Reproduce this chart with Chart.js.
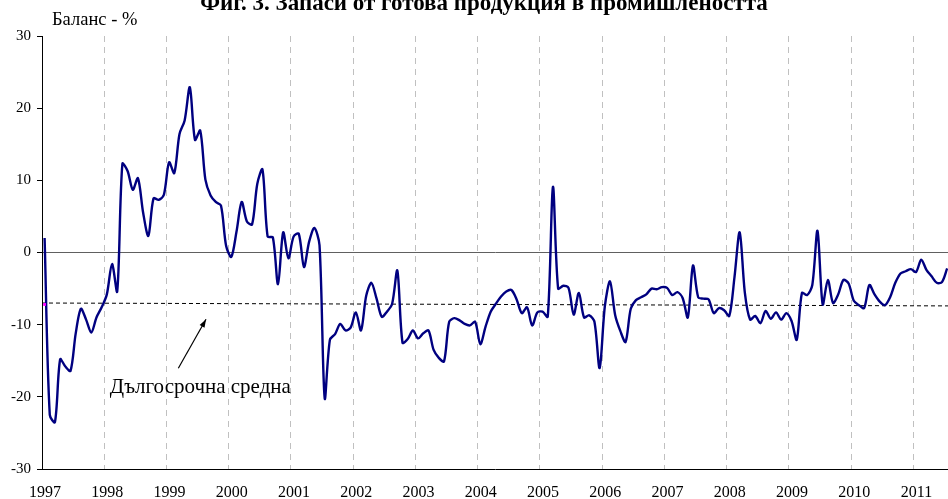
<!DOCTYPE html>
<html>
<head>
<meta charset="utf-8">
<script src="https://cdn.jsdelivr.net/npm/chart.js@4.4.0/dist/chart.umd.min.js"></script>
<style>
  html, body { margin: 0; padding: 0; background: #fff; overflow: hidden; }
  #wrap { position: relative; width: 948px; height: 499px; }
</style>
</head>
<body>
<div id="wrap"><canvas id="myChart"></canvas></div>
<script>
// месечни стойности (баланс, %) по години
const v1997 = [2.0, -22.5, -23.5, -14.8, -15.8, -16.4, -11.2, -7.8, -9.3, -11.1, -9.0, -7.6];
const v1998 = [-5.8, -1.6, -5.4, 12.3, 11.3, 8.7, 10.3, 5.5, 2.3, 7.5, 7.3, 8.0];
const v1999 = [12.5, 11.0, 16.4, 18.3, 22.9, 15.6, 16.9, 10.1, 7.9, 7.0, 6.5, 0.9];
const v2000 = [-0.6, 2.9, 7.0, 4.3, 3.9, 9.5, 11.5, 2.2, 2.1, -4.4, 2.8, -0.8];
const v2001 = [2.2, 2.6, -2.0, 1.5, 3.4, 1.0, -20.2, -12.1, -11.3, -9.9, -10.8, -10.4];
const v2002 = [-8.3, -10.8, -6.0, -4.2, -6.4, -8.9, -8.2, -7.1, -2.5, -12.5, -12.0, -10.8];
const v2003 = [-11.9, -11.2, -10.8, -13.5, -14.6, -15.1, -9.6, -9.1, -9.4, -9.9, -10.1, -9.6];
const v2004 = [-12.7, -10.3, -8.2, -7.1, -6.1, -5.4, -5.2, -6.5, -8.4, -7.6, -10.1, -8.3];
const v2005 = [-8.2, -8.9, 9.1, -5.0, -4.6, -4.9, -8.6, -5.6, -9.0, -8.7, -9.6, -16.0];
const v2006 = [-7.5, -4.0, -8.7, -10.9, -12.4, -7.8, -6.6, -6.2, -5.8, -5.0, -5.1, -4.8];
const v2007 = [-4.9, -5.9, -5.5, -6.3, -9.0, -1.8, -6.2, -6.4, -6.5, -8.4, -7.7, -8.0];
const v2008 = [-8.8, -3.4, 2.8, -5.6, -9.3, -8.8, -9.8, -8.1, -9.2, -8.3, -9.3, -8.4];
const v2009 = [-9.5, -12.1, -5.6, -5.9, -4.5, 3.0, -7.2, -3.8, -7.0, -5.8, -3.8, -4.3];
const v2010 = [-6.7, -7.3, -7.7, -4.5, -5.8, -6.8, -7.3, -6.2, -4.2, -2.9, -2.6, -2.3];
const v2011 = [-2.7, -1.0, -2.4, -3.3, -4.2, -4.1, -2.2];

const years = [1997, 1998, 1999, 2000, 2001, 2002, 2003, 2004, 2005, 2006, 2007, 2008, 2009, 2010, 2011];
const yearValues = [v1997, v1998, v1999, v2000, v2001, v2002, v2003, v2004, v2005, v2006, v2007, v2008, v2009, v2010, v2011];

// дългосрочна средна - начало и край
const meanStart = -7.0;
const meanEnd = -7.4;

const yTicks = [-30, -20, -10, 0, 10, 20, 30];
const xMin = 1997;
const xMax = 2011.555;

const titleText = 'Фиг. 3. Запаси от готова продукция в промишлеността';
const yLabel = 'Баланс - %';
const noteText = 'Дългосрочна средна';

// точките са в средата на всеки месец
const series = [];
years.forEach((yr, k) => {
    yearValues[k].forEach((v, m) => {
        series.push({ x: yr + (m + 0.5) / 12, y: v });
    });
});

const serif = '"Liberation Serif", "Times New Roman", serif';
Chart.defaults.font.family = serif;
Chart.defaults.color = '#000';

// заглавие, надпис на оста и стрелката за средната
const extraText = {
    id: 'extraText',
    afterDraw(chart) {
        const ctx = chart.ctx;
        const xs = chart.scales.x;
        const ys = chart.scales.y;
        ctx.save();
        ctx.fillStyle = '#000';
        ctx.textBaseline = 'alphabetic';

        ctx.font = 'bold 23px ' + serif;
        ctx.textAlign = 'center';
        ctx.fillText(titleText, 484, 10);

        ctx.font = '18.5px ' + serif;
        ctx.textAlign = 'left';
        ctx.fillText(yLabel, 52, 25);

        ctx.font = '21px ' + serif;
        ctx.fillText(noteText, xs.getPixelForValue(1998.09), ys.getPixelForValue(-19.5));

        const x1 = xs.getPixelForValue(1999.19), y1 = ys.getPixelForValue(-16.05);
        const x2 = xs.getPixelForValue(1999.635), y2 = ys.getPixelForValue(-9.26);
        ctx.strokeStyle = '#000';
        ctx.lineWidth = 1.2;
        ctx.beginPath();
        ctx.moveTo(x1, y1);
        ctx.lineTo(x2, y2);
        ctx.stroke();
        const a = Math.atan2(y2 - y1, x2 - x1);
        ctx.beginPath();
        ctx.moveTo(x2, y2);
        ctx.lineTo(x2 - 8 * Math.cos(a) + 2.8 * Math.sin(a), y2 - 8 * Math.sin(a) - 2.8 * Math.cos(a));
        ctx.lineTo(x2 - 8 * Math.cos(a) - 2.8 * Math.sin(a), y2 - 8 * Math.sin(a) + 2.8 * Math.cos(a));
        ctx.closePath();
        ctx.fill();
        ctx.restore();
    }
};

const ctx = document.getElementById('myChart').getContext('2d');
const chart = new Chart(ctx, {
    type: 'line',
    data: {
        datasets: [
            {
                data: [{ x: xMin + 0.5 / 12, y: -7.2 }],
                showLine: false,
                pointStyle: 'rect',
                pointRadius: 2,
                backgroundColor: '#ff00ff',
                borderWidth: 0,
                order: 0
            },
            {
                data: series,
                borderColor: '#000080',
                borderWidth: 2.4,
                pointRadius: 0,
                tension: 0.3,
                fill: false,
                order: 1
            },
            {
                data: [{ x: xMin, y: meanStart }, { x: xMax, y: meanEnd }],
                borderColor: '#000',
                borderWidth: 1,
                borderDash: [4, 3],
                pointRadius: 0,
                fill: false,
                order: 2
            }
        ]
    },
    options: {
        responsive: true,
        maintainAspectRatio: false,
        devicePixelRatio: 1,
        animation: false,
        layout: { autoPadding: false, padding: { top: 36, right: 0, left: 0, bottom: 0 } },
        plugins: {
            legend: { display: false },
            tooltip: { enabled: false },
            title: { display: false }
        },
        scales: {
            x: {
                type: 'linear',
                min: xMin,
                max: xMax,
                ticks: {
                    stepSize: 1,
                    includeBounds: false,
                    autoSkip: false,
                    maxRotation: 0,
                    padding: 14,
                    labelOffset: 3,
                    font: { size: 16 },
                    callback: v => String(v)
                },
                grid: { color: '#c0c0c0', drawTicks: false, lineWidth: 1 },
                border: { display: true, color: '#000', dash: [6, 5] },
                afterFit: s => { s.height = 30; s.paddingLeft = 0; s.paddingRight = 0; }
            },
            y: {
                min: -30,
                max: 30,
                afterBuildTicks: s => { s.ticks = yTicks.map(v => ({ value: v })); },
                ticks: { padding: 6, font: { size: 15 } },
                grid: {
                    color: c => (c.tick && c.tick.value === 0 ? '#606060' : 'rgba(0,0,0,0)'),
                    tickColor: '#000',
                    tickLength: 5,
                    lineWidth: 1
                },
                border: { display: true, color: '#000' },
                afterFit: s => { s.width = 42; s.paddingTop = 0; s.paddingBottom = 0; }
            }
        }
    },
    plugins: [extraText]
});
</script>
</body>
</html>
